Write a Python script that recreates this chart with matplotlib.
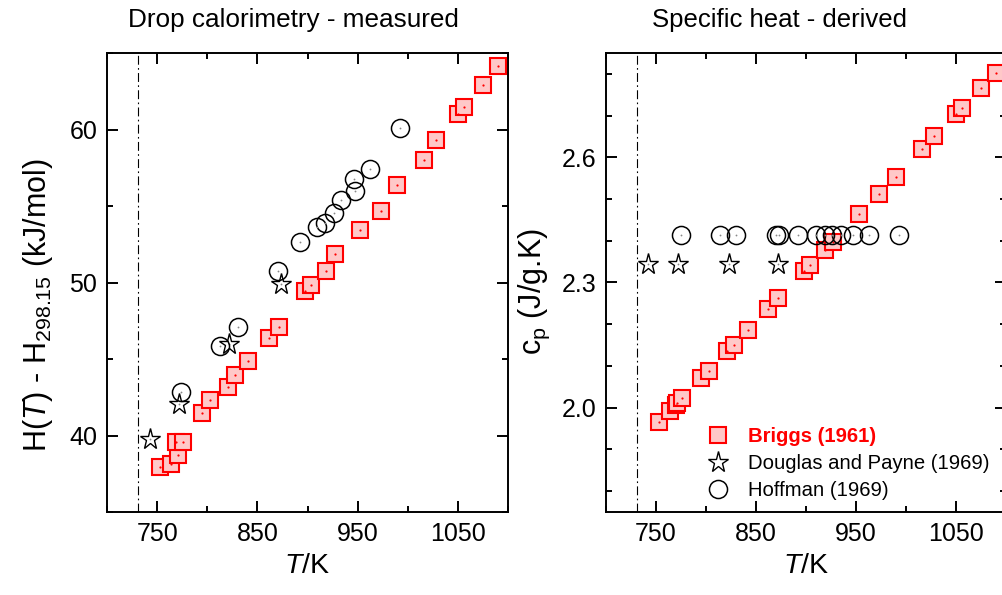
import matplotlib
matplotlib.use("Agg")
import matplotlib.pyplot as plt
import numpy as np

plt.rcParams['font.family'] = ['Liberation Sans', 'DejaVu Sans']
plt.rcParams['mathtext.fontset'] = 'custom'
plt.rcParams['mathtext.rm'] = 'Liberation Sans'
plt.rcParams['mathtext.it'] = 'Liberation Sans:italic'
plt.rcParams['mathtext.bf'] = 'Liberation Sans:bold'

# Briggs (1961) - drop calorimetry enthalpy and derived cp
briggs_T = [753, 764, 770.7, 768.7, 776, 795, 803, 821, 828, 841, 862, 872, 898,
            903.7, 918.7, 927, 952.7, 973, 989.7, 1016.7, 1028.3, 1050.3, 1056.3,
            1075.3, 1090]
briggs_H = [37.97, 38.15, 38.7, 39.56, 39.56, 41.46, 42.3, 43.16, 43.97, 44.9, 46.4,
            47.08, 49.43, 49.85, 50.74, 51.87, 53.4, 54.66, 56.39, 58.0, 59.33, 61.03,
            61.5, 62.88, 64.14]
briggs_cp_T = [753, 763.7, 769.7, 771.5, 775.7, 795, 803, 821.3, 828, 842, 862, 872,
               898.3, 904, 918.7, 927, 953, 973, 989.7, 1016.3, 1028.3, 1049.7, 1055.7,
               1075.3, 1089.7]
briggs_cp = [1.965, 1.993, 2.006, 2.012, 2.023, 2.071, 2.088, 2.135, 2.151, 2.185,
             2.237, 2.262, 2.327, 2.341, 2.378, 2.397, 2.463, 2.513, 2.553, 2.62, 2.65,
             2.704, 2.718, 2.766, 2.803]

# Douglas and Payne (1969)
dp_T = [742.7, 772, 822, 873.7]
dp_H = [39.78, 42.07, 45.95, 49.9]
dp_cp_T = [742.3, 772.3, 823, 872.3]
dp_cp = [2.345, 2.345, 2.345, 2.345]

# Hoffman (1969)
hof_T = [774.3, 812.7, 830.3, 870.3, 892.7, 909.3, 917.7, 926, 933.7, 946, 947,
         962.7, 992.7]
hof_H = [42.83, 45.88, 47.08, 50.74, 52.63, 53.6, 53.9, 54.53, 55.42, 56.78, 56.01,
         57.43, 60.08]
hof_cp_T = [775, 814, 830.3, 870.3, 873, 892.3, 909.7, 918.7, 926.3, 934.7, 947,
            963, 993]
hof_cp = [2.413] * 13

T_melt = 731

sq_face = '#ffc8c8'
red = '#ff0000'

W, H = 1003, 595
fig = plt.figure(figsize=(W / 100, H / 100), dpi=100)
ax1 = fig.add_axes([107 / W, 1 - 512 / H, 401 / W, 459 / H])
ax2 = fig.add_axes([606 / W, 1 - 512 / H, 400 / W, 459 / H])


def draw(ax, bT, bY, dT, dY, hT, hY):
    ax.axvline(T_melt, color='black', lw=0.8, ls=(0, (8, 3, 1.5, 3)), zorder=1)
    b, = ax.plot(bT, bY, ls='none', marker='s', ms=11, mfc=sq_face, mec=red,
                 mew=1.5, zorder=3)
    ax.plot(bT, bY, ls='none', marker='o', ms=1.6, color=red, mew=0, zorder=3.1)
    d, = ax.plot(dT, dY, ls='none', marker='*', ms=15.5, mfc='white', mec='black',
                 mew=1.0, zorder=4)
    ax.plot(dT, dY, ls='none', marker='o', ms=1.3, color='#888888', mew=0, zorder=4.1)
    h, = ax.plot(hT, hY, ls='none', marker='o', ms=13, mfc='none', mec='black',
                 mew=1.1, zorder=5)
    ax.plot(hT, hY, ls='none', marker='o', ms=1.3, color='#888888', mew=0, zorder=5.1)

    ax.set_xlim(700, 1100)
    ax.set_xticks([750, 850, 950, 1050])
    ax.set_xticks(np.arange(700, 1101, 50), minor=True)
    ax.tick_params(which='both', direction='in', top=True, right=True,
                   width=1.4, labelsize=18)
    ax.tick_params(which='major', length=8, pad=7)
    ax.tick_params(which='minor', length=4.3)
    for s in ax.spines.values():
        s.set_linewidth(1.4)
    ax.set_xlabel('$\\mathit{T}$/K', fontsize=20.5, labelpad=5)
    return b, d, h


draw(ax1, briggs_T, briggs_H, dp_T, dp_H, hof_T, hof_H)
b, d, h = draw(ax2, briggs_cp_T, briggs_cp, dp_cp_T, dp_cp, hof_cp_T, hof_cp)

ax1.set_ylim(35, 65)
ax1.set_yticks([40, 50, 60])
ax1.set_yticks(np.arange(35, 66, 5), minor=True)
ax1.set_ylabel('H($\\mathit{T}$) - H$_{298.15}$ (kJ/mol)', fontsize=22)
ax1.yaxis.set_label_coords(-0.13, 0.45)

ax2.set_ylim(1.75, 2.85)
ax2.set_yticks([2.0, 2.3, 2.6])
ax2.set_yticks(np.arange(1.8, 2.81, 0.1), minor=True)
ax2.set_yticklabels(['2.0', '2.3', '2.6'])
ax2.set_ylabel('c$_\\mathrm{p}$ (J/g.K)', fontsize=22)
ax2.yaxis.set_label_coords(-0.135, 0.48)

fig.text(293 / W, 1 - 20 / H, 'Drop calorimetry - measured', fontsize=18.8,
         ha='center', va='center')
fig.text(780 / W, 1 - 20 / H, 'Specific heat - derived', fontsize=18.5,
         ha='center', va='center')

leg = ax2.legend([b, d, h], ['Briggs (1961)', 'Douglas and Payne (1969)', 'Hoffman (1969)'],
                 loc='lower left', bbox_to_anchor=(0.2, 0.0), frameon=False,
                 fontsize=14.6, handletextpad=0.45, labelspacing=0.38,
                 borderaxespad=0.2)
t0 = leg.get_texts()[0]
t0.set_color(red)
t0.set_fontweight('bold')

fig.savefig('out.png', dpi=100)
